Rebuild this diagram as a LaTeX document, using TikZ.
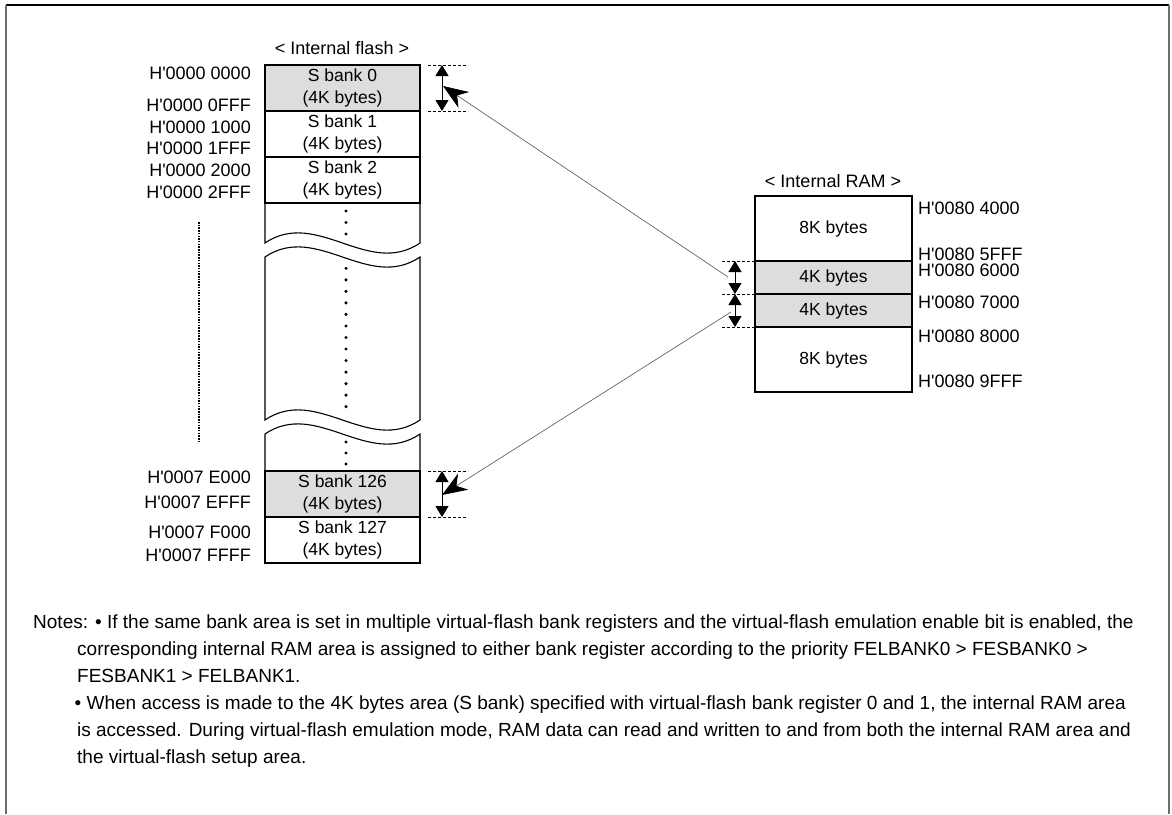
\documentclass[tikz,border=0pt]{standalone}
\usepackage{fontspec}
\setmainfont{Liberation Sans}
\usetikzlibrary{positioning, arrows.meta}
\definecolor{bankgray}{RGB}{221,221,221}
\definecolor{linkgray}{RGB}{100,100,100}
\definecolor{framegray}{RGB}{110,110,110}
\newcommand{\ap}{\textquotesingle}

\begin{document}
\begin{tikzpicture}[x=1pt, y=-1pt,
  bank/.style={draw, line width=1.1pt, outer sep=0pt, inner sep=0pt, minimum width=155pt,
    minimum height=46pt, align=center, font=\fontsize{17.5}{22}\selectfont},
  ramrow/.style={draw, line width=1.1pt, outer sep=0pt, inner sep=0pt, minimum width=157pt,
    font=\fontsize{17.5}{22}\selectfont},
  addr/.style={inner sep=0pt, font=\fontsize{18}{20}\selectfont},
  note/.style={inner sep=0pt, anchor=base west, font=\fontsize{19}{27}\selectfont},
  guide/.style={dash pattern=on 3pt off 2pt, line width=0.8pt},
  span/.style={{Triangle[width=13pt,length=11pt]}-{Triangle[width=13pt,length=11pt]}, line width=1pt},
  link/.style={linkgray, line width=0.7pt, -{Stealth[length=25pt,width=19pt,inset=8pt,color=black]}}]
\useasboundingbox (0,0) rectangle (1172,814);

% frame
\draw[line width=1.5pt] (6,5) -- (1169,5);
\draw[framegray, line width=2pt] (6,5) -- (6,814);
\draw[framegray, line width=2pt] (1169,5) -- (1169,814);

% internal flash
\node[addr] (flashtitle) at (342,48) {< Internal flash >};
\node[bank, fill=bankgray] (sbank0) at (342.5,88) {S bank 0\\(4K bytes)};
\node[bank, below=0pt of sbank0] (sbank1) {S bank 1\\(4K bytes)};
\node[bank, below=0pt of sbank1] (sbank2) {S bank 2\\(4K bytes)};
\node[bank, fill=bankgray] (sbank126) at (342.5,494) {S bank 126\\(4K bytes)};
\node[bank, below=0pt of sbank126] (sbank127) {S bank 127\\(4K bytes)};

% broken part of the column
\draw[line width=1.1pt] (sbank2.south west) -- (265,243)
  .. controls (316.7,208) and (368.3,278) .. (420,243) -- (sbank2.south east);
\draw[line width=1.1pt] (265,257) .. controls (316.7,222) and (368.3,292) .. (420,257)
  -- (420,420) .. controls (368.3,455) and (316.7,385) .. (265,420) -- cycle;
\draw[line width=1.1pt] (sbank126.north west) -- (265,434)
  .. controls (316.7,399) and (368.3,469) .. (420,434) -- (sbank126.north east);
\foreach \y in {211,222.5,234,442,453,464}
  \fill (346,\y) circle (1.7pt);
\foreach \k in {0,...,12}
  \fill (346,{268.3+11.53*\k}) circle (1.7pt);
\draw[line width=1.2pt, dash pattern=on 1.5pt off 1.2pt] (199,222) -- (199,443);

% flash addresses
\node[addr, anchor=east] (a0) at (251,73) {H\ap 0000 0000};
\node[addr, anchor=east] (a1) at (251,105) {H\ap 0000 0FFF};
\node[addr, anchor=east] (a2) at (251,127) {H\ap 0000 1000};
\node[addr, anchor=east] (a3) at (251,148) {H\ap 0000 1FFF};
\node[addr, anchor=east] (a4) at (251,170) {H\ap 0000 2000};
\node[addr, anchor=east] (a5) at (251,192) {H\ap 0000 2FFF};
\node[addr, anchor=east] (a6) at (251,477) {H\ap 0007 E000};
\node[addr, anchor=east] (a7) at (251,502) {H\ap 0007 EFFF};
\node[addr, anchor=east] (a8) at (251,532) {H\ap 0007 F000};
\node[addr, anchor=east] (a9) at (251,555) {H\ap 0007 FFFF};

% internal RAM
\node[addr] (ramtitle) at (833,181) {< Internal RAM >};
\node[ramrow, minimum height=65pt] (ram8a) at (833.5,228.5) {8K bytes};
\node[ramrow, fill=bankgray, minimum height=33pt, below=0pt of ram8a] (ram4a) {4K bytes};
\node[ramrow, fill=bankgray, minimum height=33pt, below=0pt of ram4a] (ram4b) {4K bytes};
\node[ramrow, minimum height=65pt, below=0pt of ram4b] (ram8b) {8K bytes};

\node[addr, anchor=west] (r0) at (918,208) {H\ap 0080 4000};
\node[addr, anchor=west] (r1) at (918,254) {H\ap 0080 5FFF};
\node[addr, anchor=west] (r2) at (918,270) {H\ap 0080 6000};
\node[addr, anchor=west] (r3) at (918,302) {H\ap 0080 7000};
\node[addr, anchor=west] (r4) at (918,336) {H\ap 0080 8000};
\node[addr, anchor=west] (r5) at (918,381) {H\ap 0080 9FFF};

% spans of the banks
\coordinate (f0top) at (442,65);
\coordinate (f0bot) at (442,111);
\coordinate (f126top) at (442,471);
\coordinate (f126bot) at (442,517);
\draw[guide] (428,65) -- (468,65);
\draw[guide] (428,111) -- (468,111);
\draw[guide] (428,471) -- (468,471);
\draw[guide] (428,517) -- (468,517);
\draw[span] (f0top) -- (f0bot);
\draw[span] (f126top) -- (f126bot);

\coordinate (r4atop) at (735,261);
\coordinate (r4amid) at (735,294);
\coordinate (r4bbot) at (735,327);
\draw[guide] (722,261) -- (ram4a.north west);
\draw[guide] (722,294) -- (ram4a.south west);
\draw[guide] (722,327) -- (ram4b.south west);
\draw[span] (r4atop) -- (r4amid);
\draw[span] (r4amid) -- (r4bbot);

% links RAM -> flash
\coordinate (linkA) at (728,277);
\coordinate (linkB) at (731,312);
\coordinate (tipA) at (443,86);
\coordinate (tipB) at (442,495);
\draw[link] (linkA) -- (tipA);
\draw[link] (linkB) -- (tipB);

% notes
\node[note] (n1) at (33,628) {Notes: • If the same bank area is set in multiple virtual-flash bank registers and the virtual-flash emulation enable bit is enabled, the};
\node[note] (n2) at (77,655) {corresponding internal RAM area is assigned to either bank register according to the priority FELBANK0 > FESBANK0 >};
\node[note] (n3) at (77,682) {FESBANK1 > FELBANK1.};
\node[note] (n4) at (74.5,709) {• When access is made to the 4K bytes area (S bank) specified with virtual-flash bank register 0 and 1, the internal RAM area};
\node[note] (n5) at (77,736) {is accessed. During virtual-flash emulation mode, RAM data can read and written to and from both the internal RAM area and};
\node[note] (n6) at (77,763) {the virtual-flash setup area.};
\end{tikzpicture}
\end{document}
